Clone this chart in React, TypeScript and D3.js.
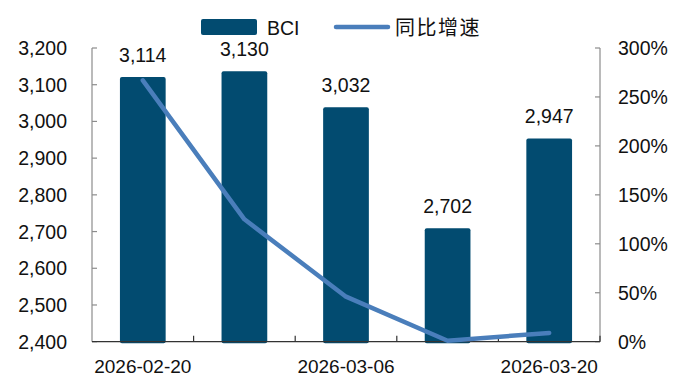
import React from "react";
import * as d3 from "d3";

const categories = ["2026-02-20", "2026-02-27", "2026-03-06", "2026-03-13", "2026-03-20"];
const bciValues = [3114, 3130, 3032, 2702, 2947];
const yoyValues = [267, 125, 46, 1, 9];
const leftTicks = [2400, 2500, 2600, 2700, 2800, 2900, 3000, 3100, 3200];
const rightTicks = [0, 50, 100, 150, 200, 250, 300];
const shownXLabels = ["2026-02-20", "2026-03-06", "2026-03-20"];

const W = 684;
const H = 376;
const left = 92;
const right = 600;
const top = 48;
const bottom = 341.7;
const barLift = 2.5;
const barColor = "#024b70";
const lineColor = "#4a7ebb";
const font = "'Liberation Sans', Arial, sans-serif";
const fmt = d3.format(",");

export default function App() {
  const x = d3.scaleBand<string>().domain(categories).range([left, right]).padding(0);
  const yL = d3.scaleLinear().domain([2400, 3200]).range([bottom, top]);
  const yR = d3.scaleLinear().domain([0, 300]).range([bottom, top]);
  const bw = x.bandwidth() * 0.45;
  const cx = (c: string) => (x(c) as number) + x.bandwidth() / 2;
  const line = d3
    .line<number>()
    .x((_, i) => cx(categories[i]))
    .y((d) => yR(d));
  const boundaries = categories.slice(1).map((c) => x(c) as number).concat([right]);

  return (
    <svg width={W} height={H} style={{ position: "absolute", left: 0, top: 0, background: "#fff" }}>
      {/* bars */}
      {categories.map((c, i) => (
        <rect
          key={c}
          x={cx(c) - bw / 2}
          y={yL(bciValues[i]) - barLift}
          width={bw}
          height={bottom + 1.5 - yL(bciValues[i]) + barLift}
          rx={2}
          fill={barColor}
        />
      ))}
      {/* bar labels */}
      {categories.map((c, i) => (
        <text
          key={"l" + c}
          x={cx(c)}
          y={yL(bciValues[i]) - barLift - 15.5}
          textAnchor="middle"
          fontFamily={font}
          fontSize={19.5}
          fill="#111"
        >
          {fmt(bciValues[i])}
        </text>
      ))}
      {/* left axis */}
      <line x1={left} x2={left} y1={top} y2={bottom} stroke="#8c8c8c" strokeWidth={1.2} />
      {leftTicks.map((t) => (
        <g key={"yl" + t}>
          <line x1={left} x2={left + 5} y1={yL(t)} y2={yL(t)} stroke="#8c8c8c" strokeWidth={1.2} />
          <text x={67} y={yL(t) + 7} textAnchor="end" fontFamily={font} fontSize={19.5} fill="#111">
            {fmt(t)}
          </text>
        </g>
      ))}
      {/* right axis */}
      <line x1={right} x2={right} y1={top} y2={bottom} stroke="#8c8c8c" strokeWidth={1.2} />
      {rightTicks.map((t) => (
        <g key={"yr" + t}>
          <line x1={right - 5} x2={right} y1={yR(t)} y2={yR(t)} stroke="#8c8c8c" strokeWidth={1.2} />
          <text x={618} y={yR(t) + 7} textAnchor="start" fontFamily={font} fontSize={19.5} fill="#111">
            {t + "%"}
          </text>
        </g>
      ))}
      {/* bottom axis */}
      <line x1={left} x2={right} y1={bottom} y2={bottom} stroke="#333" strokeWidth={1.3} />
      {boundaries.map((b, i) => (
        <line key={"xt" + i} x1={b} x2={b} y1={bottom} y2={bottom - 6} stroke="#333" strokeWidth={1.2} />
      ))}
      {categories
        .filter((c) => shownXLabels.includes(c))
        .map((c) => (
          <text key={"x" + c} x={cx(c)} y={372.5} textAnchor="middle" fontFamily={font} fontSize={19} fill="#111">
            {c}
          </text>
        ))}
      {/* line */}
      <path
        d={line(yoyValues) || ""}
        fill="none"
        stroke={lineColor}
        strokeWidth={4.5}
        strokeLinejoin="round"
        strokeLinecap="round"
      />
      {/* legend */}
      <rect x={201} y={19} width={56} height={16} rx={2} fill={barColor} />
      <text x={267} y={35} fontFamily={font} fontSize={19.5} fill="#111">
        BCI
      </text>
      <line x1={336} x2={388} y1={27} y2={27} stroke={lineColor} strokeWidth={4.5} strokeLinecap="round" />
      <text x={395} y={35} fontFamily="'Noto Sans CJK SC', sans-serif" fontSize={20} letterSpacing={1.5} fill="#111">
        同比增速
      </text>
    </svg>
  );
}
